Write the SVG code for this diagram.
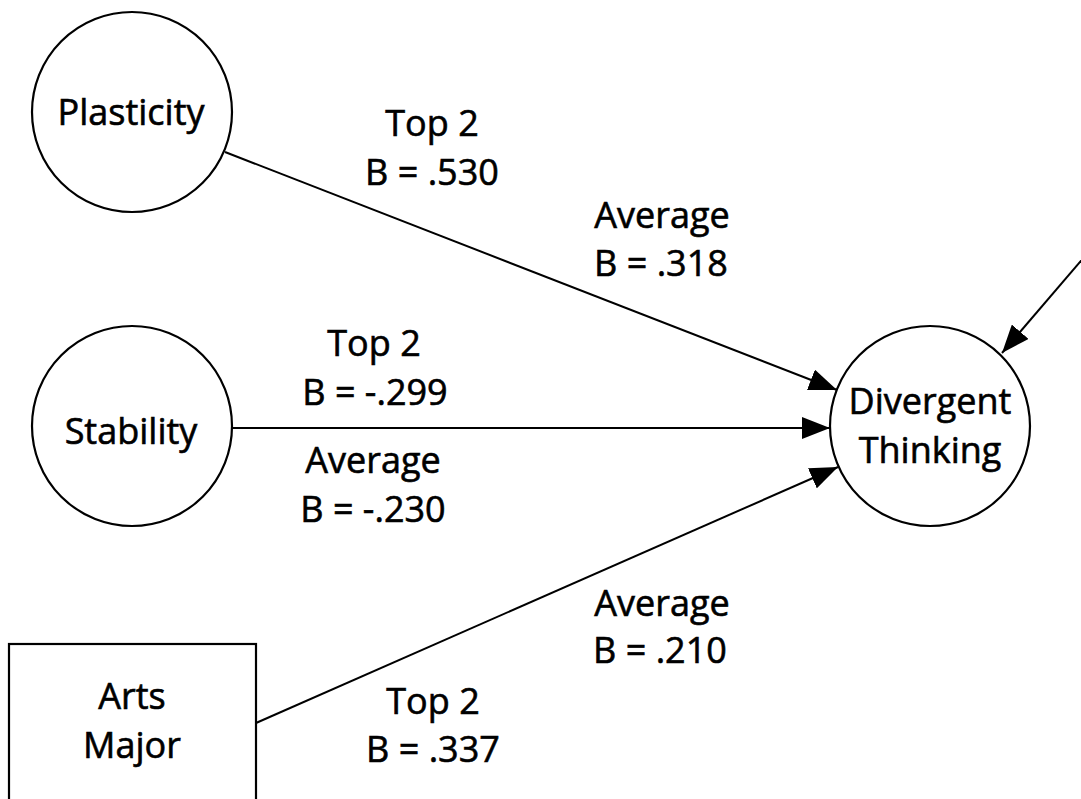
<svg xmlns="http://www.w3.org/2000/svg" width="1081" height="799" viewBox="0 0 1081 799">
<style>
.n{fill:#fff;stroke:#000;stroke-width:2.2}
.t{font-family:"Open Sans","Noto Sans",sans-serif;font-size:36px;fill:#000;stroke:#000;stroke-width:0.6;text-anchor:middle}
.e{stroke:#000;stroke-width:2;fill:none;marker-end:url(#ah)}
</style>
<defs>
<marker id="ah" viewBox="0 0 28 22" refX="28" refY="11" markerWidth="28" markerHeight="22" markerUnits="userSpaceOnUse" orient="auto">
<path d="M0,0 L28,11 L0,22 Z" fill="#000"/>
</marker>
</defs>
<rect width="1081" height="799" fill="#fff"/>
<g id="connectors">
<line class="e" x1="225" y1="152" x2="837" y2="390"/>
<line class="e" x1="232" y1="428" x2="830" y2="428"/>
<line class="e" x1="256" y1="723" x2="838" y2="467"/>
<line class="e" x1="1085" y1="256" x2="1002" y2="353"/>
</g>
<g id="plasticity">
<circle class="n" cx="132" cy="112" r="100"/>
<text class="t" x="131" y="125">Plasticity</text>
</g>
<g id="stability">
<circle class="n" cx="132" cy="426" r="100"/>
<text class="t" x="131" y="444">Stability</text>
</g>
<g id="arts-major">
<rect class="n" x="9" y="644" width="247" height="170"/>
<text class="t" x="132" y="709">Arts</text>
<text class="t" x="132" y="758">Major</text>
</g>
<g id="divergent-thinking">
<circle class="n" cx="930" cy="426" r="100"/>
<text class="t" x="930" y="414">Divergent</text>
<text class="t" x="930" y="463">Thinking</text>
</g>
<g id="labels">
<text class="t" x="432" y="136">Top 2</text>
<text class="t" x="432" y="185">B = .530</text>
<text class="t" x="662" y="228">Average</text>
<text class="t" x="661" y="276">B = .318</text>
<text class="t" x="374" y="356">Top 2</text>
<text class="t" x="375" y="405">B = -.299</text>
<text class="t" x="373" y="473">Average</text>
<text class="t" x="373" y="522">B = -.230</text>
<text class="t" x="662" y="616">Average</text>
<text class="t" x="660" y="663">B = .210</text>
<text class="t" x="433" y="714">Top 2</text>
<text class="t" x="433" y="762">B = .337</text>
</g>
</svg>
